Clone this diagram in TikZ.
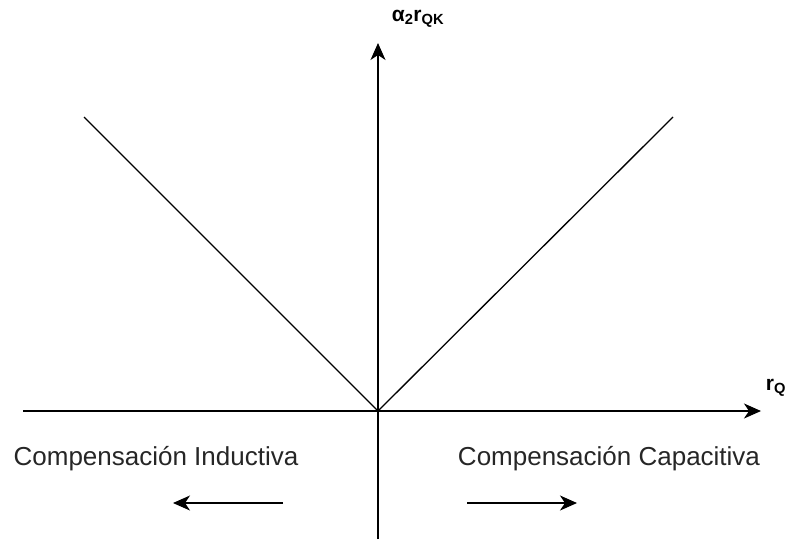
\documentclass[tikz,border=0pt]{standalone}
\usepackage{fontspec}
\setmainfont{Liberation Sans}
\usetikzlibrary{arrows.meta}
\begin{document}
\begin{tikzpicture}[
      x=1pt, y=-1pt,
      axis/.style={line width=1.4pt,-{Stealth[length=17pt,width=15pt,inset=5pt]}},
      branch/.style={line width=1.3pt},
      hint/.style={line width=1.4pt,-{Stealth[length=17pt,width=15pt,inset=5pt]}},
      axislabel/.style={font=\fontsize{21}{24}\selectfont\bfseries,inner sep=0pt},
      zone/.style={font=\fontsize{26}{30}\selectfont,inner sep=0pt,text=black!85}
    ]
    \useasboundingbox (0,0) rectangle (791,539);
    % Fix the origin and the axis ends.
    \coordinate (origin) at (378,411);
    \coordinate (xstart) at (23,411);
    \coordinate (xend)   at (761,411);
    \coordinate (ybot)   at (378,539);
    \coordinate (ytop)   at (378,43);
    % Draw the axes.
    \draw[axis] (xstart) -- (xend);
    \draw[axis] (ybot) -- (ytop);
    \node[axislabel] (ylab) at (418,19) {α\textsubscript{2}r\textsubscript{QK}};
    \node[axislabel] (xlab) at (776,388) {r\textsubscript{Q}};
    % Draw the two branches.
    \coordinate (lefttop)  at (84,117);
    \coordinate (righttop) at (673,117);
    \draw[branch] (lefttop) -- (origin) -- (righttop);
    % Label the two zones.
    \node[zone] (ind) at (156,459) {Compensación Inductiva};
    \node[zone] (cap) at (609,459) {Compensación Capacitiva};
    \coordinate (indtail) at (283,503);
    \coordinate (indtip)  at (173,503);
    \coordinate (captail) at (467,503);
    \coordinate (captip)  at (577,503);
    \draw[hint] (indtail) -- (indtip);
    \draw[hint] (captail) -- (captip);
\end{tikzpicture}
\end{document}
